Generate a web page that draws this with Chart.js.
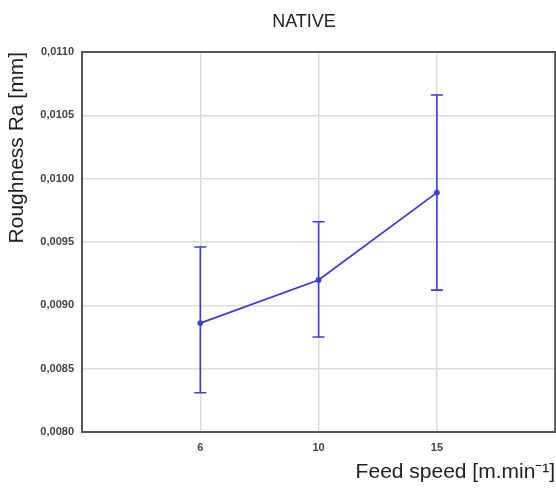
<!DOCTYPE html>
<html>
<head>
<meta charset="utf-8">
<script src="https://cdn.jsdelivr.net/npm/chart.js@4"></script>
<style>
  html, body { margin: 0; padding: 0; background: #fff; overflow: hidden; }
  #wrap { width: 559px; height: 488px; }
</style>
</head>
<body>
<div id="wrap"><canvas id="chart"></canvas></div>
<script>
// values
const feedSpeeds = ['6', '10', '15'];
const meanRa = [0.00886, 0.00920, 0.00989];
const lowerRa = [0.00831, 0.00875, 0.00912];
const upperRa = [0.00946, 0.00966, 0.01066];
const yTicks = [0.0080, 0.0085, 0.0090, 0.0095, 0.0100, 0.0105, 0.0110];
const chartTitle = 'NATIVE';

// empty slots on both sides so the categories sit like in the original
const labels = [''].concat(feedSpeeds, ['']);
const padded = arr => [null].concat(arr, [null]);

const lineBlue = 'rgb(60, 60, 215)';
const fontFamily = 'Liberation Sans, Arial, sans-serif';

// frame around the plot, whiskers and the title (placed off-centre like the original)
const framePlugin = {
    id: 'frameAndWhiskers',
    afterDatasetsDraw(chart) {
        const ctx = chart.ctx;
        const area = chart.chartArea;
        const x = chart.scales.x;
        const y = chart.scales.y;

        ctx.save();
        ctx.strokeStyle = lineBlue;
        ctx.lineWidth = 1.6;
        for (let i = 0; i < feedSpeeds.length; i++) {
            const px = x.getPixelForValue(i + 1);
            const top = y.getPixelForValue(upperRa[i]);
            const bot = y.getPixelForValue(lowerRa[i]);
            ctx.beginPath();
            ctx.moveTo(px, top);
            ctx.lineTo(px, bot);
            ctx.moveTo(px - 6, top);
            ctx.lineTo(px + 6, top);
            ctx.moveTo(px - 6, bot);
            ctx.lineTo(px + 6, bot);
            ctx.stroke();
        }

        ctx.strokeStyle = '#555';
        ctx.lineWidth = 2;
        ctx.strokeRect(area.left, area.top, area.right - area.left, area.bottom - area.top);

        ctx.fillStyle = '#222';
        ctx.font = '18px ' + fontFamily;
        ctx.textAlign = 'center';
        ctx.textBaseline = 'alphabetic';
        ctx.fillText(chartTitle, 304, 27);
        ctx.restore();
    }
};

const ctx = document.getElementById('chart').getContext('2d');
new Chart(ctx, {
    type: 'line',
    data: {
        labels: labels,
        datasets: [{
            data: padded(meanRa),
            borderColor: lineBlue,
            backgroundColor: lineBlue,
            borderWidth: 1.8,
            pointRadius: 2,
            pointHoverRadius: 2,
            tension: 0,
            fill: false
        }]
    },
    options: {
        responsive: true,
        maintainAspectRatio: false,
        animation: false,
        layout: { padding: { left: 0, right: 1, top: 52, bottom: 0 } },
        plugins: {
            legend: { display: false },
            tooltip: { enabled: false },
            title: { display: false }
        },
        scales: {
            x: {
                type: 'category',
                offset: false,
                grid: { color: '#dcdcdc', lineWidth: 1.5, drawTicks: false, offset: false },
                border: { display: false },
                ticks: {
                    color: '#444',
                    padding: 9,
                    maxRotation: 0,
                    autoSkip: false,
                    font: { family: fontFamily, size: 11, weight: 'bold' }
                },
                title: {
                    display: true,
                    text: 'Feed speed [m.min⁻¹]',
                    align: 'end',
                    color: '#222',
                    font: { family: fontFamily, size: 21 },
                    padding: { top: 0, bottom: 3 }
                },
                afterFit(scale) {
                    scale.height = 56;
                    scale.paddingLeft = 0;
                    scale.paddingRight = 0;
                }
            },
            y: {
                min: 0.0080,
                max: 0.0110,
                grid: { color: '#dcdcdc', lineWidth: 1.5, drawTicks: false },
                border: { display: false },
                afterBuildTicks(scale) {
                    scale.ticks = yTicks.map(v => ({ value: v }));
                },
                ticks: {
                    color: '#444',
                    padding: 8,
                    font: { family: fontFamily, size: 11, weight: 'bold' },
                    callback: v => v.toFixed(4).replace('.', ',')
                },
                title: {
                    display: true,
                    text: 'Roughness Ra [mm]',
                    align: 'end',
                    color: '#222',
                    font: { family: fontFamily, size: 21 },
                    padding: { top: 5, bottom: 4 }
                },
                afterFit(scale) {
                    scale.width = 82;
                    scale.paddingTop = 0;
                    scale.paddingBottom = 0;
                }
            }
        }
    },
    plugins: [framePlugin]
});
</script>
</body>
</html>
